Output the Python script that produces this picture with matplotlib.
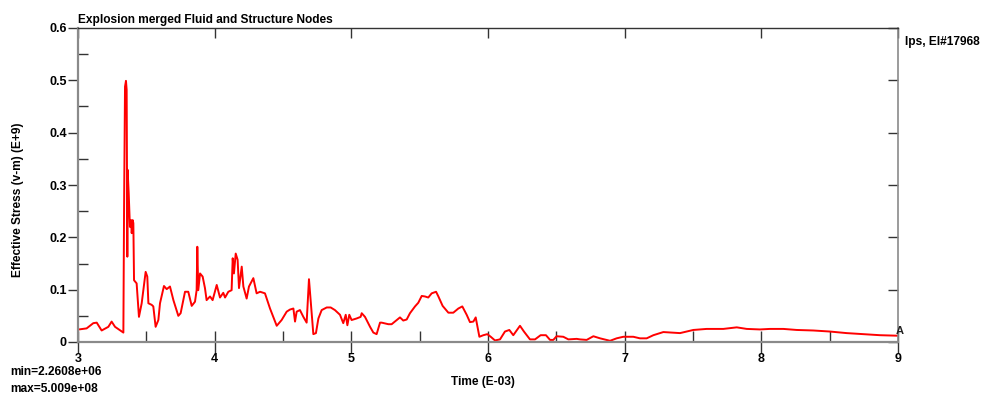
import matplotlib
matplotlib.use("Agg")
import matplotlib.pyplot as plt
from matplotlib.ticker import MultipleLocator, FuncFormatter, NullLocator

# ---- data (Time in E-03 s, Effective stress in E+9) ----
time_e3 = [3.007, 3.063, 3.112, 3.137, 3.173, 3.222, 3.246, 3.271, 3.332, 3.337, 3.344, 3.351, 3.356,
           3.361, 3.363, 3.371, 3.380, 3.388, 3.393, 3.400, 3.405, 3.410, 3.429, 3.446, 3.466, 3.495,
           3.507, 3.515, 3.539, 3.551, 3.568, 3.588, 3.600, 3.629, 3.649, 3.673, 3.698, 3.734, 3.751,
           3.783, 3.807, 3.832, 3.856, 3.868, 3.873, 3.880, 3.893, 3.912, 3.929, 3.941, 3.966, 3.985,
           4.015, 4.039, 4.063, 4.076, 4.100, 4.124, 4.132, 4.141, 4.154, 4.168, 4.178, 4.198, 4.210,
           4.234, 4.251, 4.283, 4.307, 4.332, 4.368, 4.405, 4.454, 4.490, 4.527, 4.551, 4.576, 4.588,
           4.600, 4.624, 4.649, 4.673, 4.690, 4.702, 4.722, 4.741, 4.759, 4.783, 4.820, 4.849, 4.880,
           4.917, 4.941, 4.959, 4.971, 4.985, 5.002, 5.039, 5.068, 5.076, 5.100, 5.137, 5.161, 5.185,
           5.210, 5.222, 5.271, 5.295, 5.332, 5.356, 5.380, 5.405, 5.429, 5.466, 5.490, 5.515, 5.539,
           5.563, 5.588, 5.620, 5.637, 5.668, 5.710, 5.746, 5.783, 5.812, 5.844, 5.868, 5.893, 5.910,
           5.937, 5.966, 5.995, 6.020, 6.051, 6.088, 6.124, 6.156, 6.185, 6.234, 6.263, 6.307, 6.344,
           6.385, 6.424, 6.454, 6.478, 6.502, 6.551, 6.588, 6.649, 6.673, 6.722, 6.771, 6.820, 6.893,
           6.941, 6.990, 7.063, 7.112, 7.161, 7.210, 7.283, 7.405, 7.502, 7.600, 7.722, 7.820, 7.893,
           7.990, 8.063, 8.161, 8.259, 8.380, 8.502, 8.624, 8.746, 8.868, 9.000]
stress_e9 = [0.024, 0.026, 0.036, 0.037, 0.022, 0.029, 0.039, 0.029, 0.018, 0.252, 0.488, 0.499, 0.482,
             0.163, 0.329, 0.284, 0.220, 0.233, 0.208, 0.233, 0.227, 0.118, 0.112, 0.048, 0.074, 0.134,
             0.125, 0.074, 0.071, 0.068, 0.029, 0.042, 0.074, 0.107, 0.101, 0.106, 0.080, 0.050, 0.055,
             0.096, 0.096, 0.069, 0.077, 0.099, 0.182, 0.099, 0.131, 0.125, 0.103, 0.080, 0.087, 0.080,
             0.109, 0.085, 0.094, 0.085, 0.096, 0.099, 0.160, 0.131, 0.169, 0.157, 0.103, 0.144, 0.106,
             0.083, 0.106, 0.122, 0.093, 0.096, 0.093, 0.064, 0.031, 0.042, 0.058, 0.062, 0.064, 0.039,
             0.058, 0.061, 0.048, 0.037, 0.120, 0.080, 0.015, 0.017, 0.045, 0.061, 0.066, 0.066, 0.061,
             0.052, 0.036, 0.052, 0.032, 0.052, 0.042, 0.045, 0.048, 0.055, 0.048, 0.029, 0.018, 0.015,
             0.037, 0.037, 0.034, 0.034, 0.042, 0.047, 0.041, 0.043, 0.055, 0.068, 0.075, 0.088, 0.087,
             0.085, 0.093, 0.096, 0.087, 0.069, 0.056, 0.056, 0.064, 0.068, 0.052, 0.038, 0.039, 0.047,
             0.010, 0.013, 0.015, 0.010, 0.003, 0.005, 0.020, 0.023, 0.013, 0.031, 0.020, 0.005, 0.005,
             0.013, 0.013, 0.004, 0.004, 0.011, 0.010, 0.005, 0.006, 0.005, 0.004, 0.011, 0.007, 0.0023,
             0.007, 0.010, 0.010, 0.007, 0.007, 0.013, 0.019, 0.017, 0.023, 0.025, 0.025, 0.028, 0.025,
             0.024, 0.025, 0.025, 0.023, 0.022, 0.020, 0.017, 0.015, 0.013, 0.012]

x_ticks = [3, 4, 5, 6, 7, 8, 9]
y_ticks = [0, 0.1, 0.2, 0.3, 0.4, 0.5, 0.6]

title = "Explosion merged Fluid and Structure Nodes"
curve_label = "Ips, El#17968"
x_label = "Time (E-03)"
y_label = "Effective Stress (v-m) (E+9)"
min_text = "min=2.2608e+06"
max_text = "max=5.009e+08"
curve_tag = "A"

FONT = ["Liberation Sans Narrow", "Liberation Sans", "DejaVu Sans"]
plt.rcParams["font.family"] = FONT

W, H = 983, 396
fig = plt.figure(figsize=(W / 100, H / 100), dpi=100)
ax = fig.add_axes([78 / W, 1 - 342 / H, (898 - 78) / W, (342 - 28) / H])

ax.plot(time_e3, stress_e9, color="#ff0000", lw=1.4, solid_joinstyle="round")
ax.annotate(curve_tag, (time_e3[-1], stress_e9[-1]), xytext=(1.5, 0), textcoords="offset points",
            ha="center", va="bottom", fontsize=8, fontweight="bold", color="#222222")

ax.set_xlim(3, 9)
ax.set_ylim(0, 0.6)
ax.set_xticks(x_ticks)
ax.set_yticks(y_ticks)
ax.xaxis.set_minor_locator(MultipleLocator(0.5))
ax.yaxis.set_minor_locator(MultipleLocator(0.05))
ax.yaxis.set_major_formatter(FuncFormatter(lambda v, p: "0" if abs(v) < 1e-9 else f"{v:.1f}"))

tick_color = "#333333"
ax.tick_params(axis="y", which="major", direction="out", length=7, width=1, color=tick_color,
               pad=1, labelsize=9)
ax.tick_params(axis="y", which="minor", direction="in", length=7, width=1, color=tick_color)
ax.tick_params(axis="x", which="major", direction="inout", length=16, width=1, color=tick_color,
               pad=0, labelsize=9)
ax.tick_params(axis="x", which="minor", direction="in", length=8, width=1, color=tick_color)
for lab in ax.get_xticklabels() + ax.get_yticklabels():
    lab.set_fontweight("bold")

for s in ("left", "bottom"):
    ax.spines[s].set_color("#8a8a8a")
    ax.spines[s].set_linewidth(1.6)
ax.spines["right"].set_color("#8a8a8a")
ax.spines["right"].set_linewidth(1.2)
ax.spines["top"].set_color("#333333")
ax.spines["top"].set_linewidth(1.0)

top = ax.secondary_xaxis("top")
top.set_xticks(x_ticks)
top.xaxis.set_minor_locator(NullLocator())
top.tick_params(direction="in", length=7, width=1, color=tick_color, labeltop=False)
top.spines["top"].set_visible(False)
right = ax.secondary_yaxis("right")
right.set_yticks(y_ticks)
right.yaxis.set_minor_locator(NullLocator())
right.tick_params(direction="in", length=7, width=1, color=tick_color, labelright=False)
right.spines["right"].set_visible(False)

fig.text(78 / W, 1 - 23 / H, title, ha="left", va="baseline", fontsize=8.6, fontweight="bold")
fig.text(905 / W, 1 - 42 / H, curve_label, ha="left", va="center", fontsize=8.6, fontweight="bold")
fig.text(18 / W, 1 - 200 / H, y_label, ha="center", va="center", rotation=90, fontsize=8.6,
         fontweight="bold")
fig.text(483 / W, 1 - 382 / H, x_label, ha="center", va="center", fontsize=8.6, fontweight="bold")
fig.text(10 / W, 1 - 372 / H, min_text, ha="left", va="center", fontsize=8.6, fontweight="bold")
fig.text(10 / W, 1 - 389 / H, max_text, ha="left", va="center", fontsize=8.6, fontweight="bold")

fig.savefig("out.png", dpi=100, facecolor="white")
